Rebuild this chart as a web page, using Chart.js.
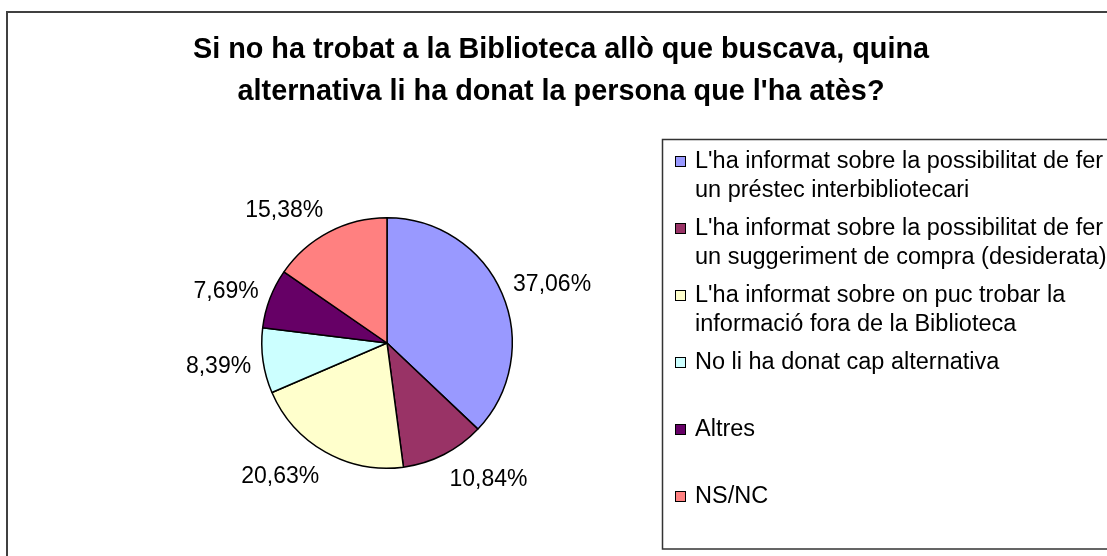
<!DOCTYPE html>
<html>
<head>
<meta charset="utf-8">
<script src="https://cdn.jsdelivr.net/npm/chart.js@4/dist/chart.umd.min.js"></script>
<style>
  html, body { margin: 0; padding: 0; background: #fff; }
  #wrap { width: 1107px; height: 556px; position: relative; }
</style>
</head>
<body>
<div id="wrap"><canvas id="c"></canvas></div>
<script>
// Survey answers: share of respondents per alternative offered (percent)
const titleLines = [
  "Si no ha trobat a la Biblioteca allò que buscava, quina",
  "alternativa li ha donat la persona que l'ha atès?"
];
const categories = [
  "L'ha informat sobre la possibilitat de fer un préstec interbibliotecari",
  "L'ha informat sobre la possibilitat de fer un suggeriment de compra (desiderata)",
  "L'ha informat sobre on puc trobar la informació fora de la Biblioteca",
  "No li ha donat cap alternativa",
  "Altres",
  "NS/NC"
];
const percentages = [37.06, 10.84, 20.63, 8.39, 7.69, 15.38];
const sliceColors = ['#9999FF', '#993366', '#FFFFCC', '#CCFFFF', '#660066', '#FF8080'];

const FONT = '"Liberation Sans", Arial, Helvetica, sans-serif';
const formatPct = v => v.toFixed(2).replace('.', ',') + '%';

// word-wrap a legend entry to a maximum width
function wrapText(ctx, text, maxWidth) {
  const words = text.split(' ');
  const lines = [];
  let line = '';
  for (const w of words) {
    const test = line ? line + ' ' + w : w;
    if (line && ctx.measureText(test).width > maxWidth) {
      lines.push(line);
      line = w;
    } else {
      line = test;
    }
  }
  if (line) lines.push(line);
  return lines;
}

const chartDecor = {
  id: 'chartDecor',
  beforeDraw(chart) {
    const ctx = chart.ctx;
    ctx.save();
    ctx.fillStyle = '#ffffff';
    ctx.fillRect(0, 0, chart.width, chart.height);

    // outer frame of the chart object
    ctx.strokeStyle = '#404040';
    ctx.lineWidth = 2;
    ctx.strokeRect(7, 12, chart.width + 40, chart.height + 40);

    // title
    ctx.fillStyle = '#000';
    ctx.font = 'bold 28.8px ' + FONT;
    ctx.textAlign = 'center';
    ctx.textBaseline = 'alphabetic';
    titleLines.forEach((t, i) => ctx.fillText(t, 561, 58 + i * 42));

    // legend frame
    ctx.strokeStyle = '#333';
    ctx.lineWidth = 1.5;
    ctx.strokeRect(662.5, 139.5, 600, 409.5);

    // legend entries
    ctx.font = '23.5px ' + FONT;
    ctx.textAlign = 'left';
    const data = chart.data;
    data.labels.forEach((label, i) => {
      const y = 168 + 67 * i;
      ctx.fillStyle = data.datasets[0].backgroundColor[i];
      ctx.fillRect(675.5, y - 11.5, 10, 10);
      ctx.strokeStyle = '#000';
      ctx.lineWidth = 1;
      ctx.strokeRect(675.5, y - 11.5, 10, 10);
      ctx.fillStyle = '#000';
      wrapText(ctx, label, 425).forEach((ln, k) => ctx.fillText(ln, 695, y + 29 * k));
    });
    ctx.restore();
  },
  afterDatasetsDraw(chart) {
    // percentage labels just outside each slice
    const ctx = chart.ctx;
    const meta = chart.getDatasetMeta(0);
    const values = chart.data.datasets[0].data;
    ctx.save();
    ctx.font = '23px ' + FONT;
    ctx.fillStyle = '#000';
    ctx.textAlign = 'center';
    ctx.textBaseline = 'alphabetic';
    meta.data.forEach((arc, i) => {
      const p = arc.getProps(['x', 'y', 'startAngle', 'endAngle', 'outerRadius'], true);
      const a = (p.startAngle + p.endAngle) / 2;
      const dx = Math.cos(a), dy = Math.sin(a);
      const r = p.outerRadius + 12;
      const px = p.x + r * dx, py = p.y + r * dy;
      const text = formatPct(values[i]);
      const w = ctx.measureText(text).width;
      const cx = px + Math.sign(dx) * w / 2;
      const cy = py + dy * 14;
      ctx.fillText(text, cx, cy + 8.2);
    });
    ctx.restore();
  }
};

new Chart(document.getElementById('c'), {
  type: 'pie',
  data: {
    labels: categories,
    datasets: [{
      data: percentages,
      backgroundColor: sliceColors,
      borderColor: '#000',
      borderWidth: 1.5
    }]
  },
  options: {
    responsive: true,
    maintainAspectRatio: false,
    animation: false,
    events: [],
    devicePixelRatio: 1,
    layout: { padding: { left: 261, right: 594, top: 217, bottom: 87 } },
    plugins: {
      legend: { display: false },
      title: { display: false },
      tooltip: { enabled: false }
    }
  },
  plugins: [chartDecor]
});
</script>
</body>
</html>
